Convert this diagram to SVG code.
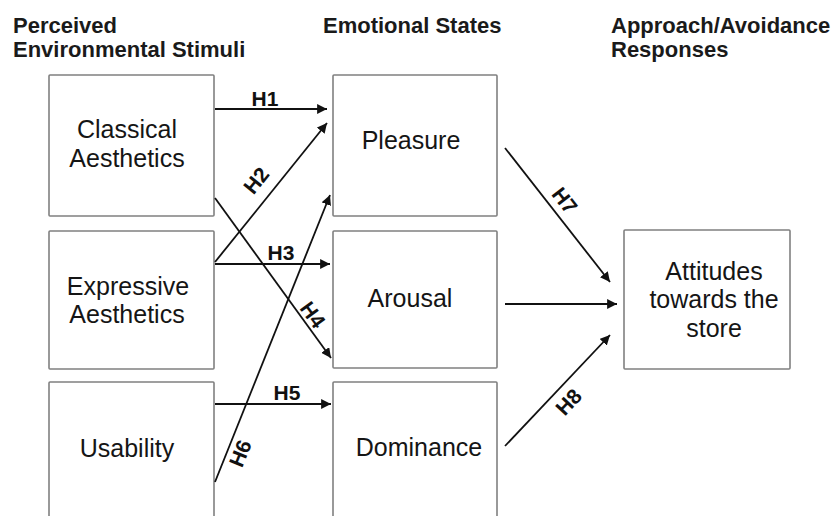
<svg xmlns="http://www.w3.org/2000/svg" width="836" height="516" viewBox="0 0 836 516">
  <style>
    .box { fill: #ffffff; stroke: #808080; stroke-width: 1.6; }
    .head { font-family: "Liberation Sans", Arial, sans-serif; font-weight: bold; font-size: 22px; fill: #1a1a1a; }
    .lbl { font-family: "Liberation Sans", Arial, sans-serif; font-size: 25px; fill: #151515; text-anchor: middle; }
    .hyp { font-family: "Liberation Sans", Arial, sans-serif; font-weight: bold; font-size: 21px; fill: #111111; text-anchor: middle; }
    .edge { stroke: #111111; stroke-width: 1.8; fill: none; marker-end: url(#arrow); }
  </style>
  <defs>
    <marker id="arrow" viewBox="0 0 10 10" refX="10" refY="5" markerWidth="5.5" markerHeight="5.5" markerUnits="strokeWidth" orient="auto">
      <path d="M0,0 L10,5 L0,10 z" fill="#111111"/>
    </marker>
  </defs>
  <rect width="836" height="516" fill="#ffffff"/>

  <!-- column headings -->
  <g id="headings">
    <text class="head" x="13" y="33">Perceived</text>
    <text class="head" x="13" y="57">Environmental Stimuli</text>
    <text class="head" x="323" y="33">Emotional States</text>
    <text class="head" x="611" y="33">Approach/Avoidance</text>
    <text class="head" x="611" y="57">Responses</text>
  </g>

  <!-- stimuli -->
  <g id="classical">
    <rect class="box" x="49" y="75" width="165" height="141" rx="1"/>
    <text class="lbl" x="127" y="138">Classical</text>
    <text class="lbl" x="127" y="167">Aesthetics</text>
  </g>
  <g id="expressive">
    <rect class="box" x="49" y="231" width="165" height="138" rx="1"/>
    <text class="lbl" x="128" y="295">Expressive</text>
    <text class="lbl" x="127" y="323">Aesthetics</text>
  </g>
  <g id="usability">
    <rect class="box" x="49" y="382" width="165" height="145" rx="1"/>
    <text class="lbl" x="127" y="457">Usability</text>
  </g>

  <!-- emotional states -->
  <g id="pleasure">
    <rect class="box" x="333" y="75" width="164" height="141" rx="1"/>
    <text class="lbl" x="411" y="149">Pleasure</text>
  </g>
  <g id="arousal">
    <rect class="box" x="333" y="231" width="164" height="137" rx="1"/>
    <text class="lbl" x="410" y="307">Arousal</text>
  </g>
  <g id="dominance">
    <rect class="box" x="333" y="382" width="164" height="145" rx="1"/>
    <text class="lbl" x="419" y="456">Dominance</text>
  </g>

  <!-- response -->
  <g id="attitudes">
    <rect class="box" x="624" y="230" width="166" height="139" rx="1"/>
    <text class="lbl" x="714" y="280">Attitudes</text>
    <text class="lbl" x="714" y="308">towards the</text>
    <text class="lbl" x="714" y="337">store</text>
  </g>

  <!-- hypothesised paths -->
  <g id="connectors">
    <line class="edge" x1="215" y1="109" x2="327" y2="109"/>
    <line class="edge" x1="215" y1="262" x2="327" y2="123"/>
    <line class="edge" x1="215" y1="264" x2="330" y2="264"/>
    <line class="edge" x1="215" y1="198" x2="331" y2="358"/>
    <line class="edge" x1="215" y1="404" x2="331" y2="404"/>
    <line class="edge" x1="215" y1="482" x2="330" y2="195"/>
    <line class="edge" x1="505" y1="148" x2="610" y2="282"/>
    <line class="edge" x1="505" y1="304" x2="617" y2="304"/>
    <line class="edge" x1="505" y1="446" x2="610" y2="335"/>

    <text class="hyp" x="265" y="106">H1</text>
    <text class="hyp" transform="translate(262,185) rotate(-51)">H2</text>
    <text class="hyp" x="281" y="260">H3</text>
    <text class="hyp" transform="translate(307,319) rotate(54)">H4</text>
    <text class="hyp" x="287" y="400">H5</text>
    <text class="hyp" transform="translate(247,456) rotate(-68)">H6</text>
    <text class="hyp" transform="translate(559,205) rotate(52)">H7</text>
    <text class="hyp" transform="translate(574,407) rotate(-47)">H8</text>
  </g>
</svg>
